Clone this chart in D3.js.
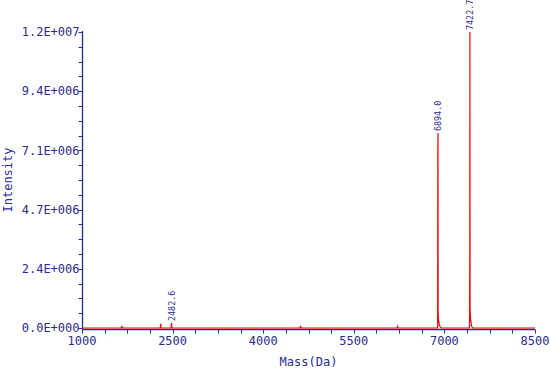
<!DOCTYPE html>
<html>
<head>
<meta charset="utf-8">
<script src="https://cdn.jsdelivr.net/npm/d3@7"></script>
<style>
  body { margin: 0; background: #fff; }
  svg { display: block; }
</style>
</head>
<body>
<div id="chart"></div>
<script>
// spectrum points (mass in Da, intensity in counts)
var massData = [1000, 1655, 1662, 1669, 2296, 2303, 2310, 2476, 2482.6, 2489,
  4611, 4618, 4625, 6220, 6227, 6234,
  6888, 6891.5, 6894.0, 6896, 6902, 6910, 6920, 6932, 6950,
  7416, 7420.5, 7422.7, 7425, 7431, 7440, 7452, 7470, 8500];
var intensityData = [0, 0, 0.08e6, 0, 0, 0.17e6, 0, 0, 0.2e6, 0,
  0, 0.08e6, 0, 0, 0.06e6, 0,
  0, 7.0e6, 7.74e6, 0.6e6, 0.35e6, 0.2e6, 0.1e6, 0.04e6, 0,
  0, 3.0e6, 11.75e6, 0.8e6, 0.4e6, 0.25e6, 0.06e6, 0, 0];

// annotated peaks
var peakMass = [2482.6, 6894.0, 7422.7];
var peakIntensity = [0.2e6, 7.74e6, 11.75e6];
var peakLabels = ["2482.6", "6894.0", "7422.7"];

// axis ticks
var xTicks = [1000, 2500, 4000, 5500, 7000, 8500];
var yTicks = [0, 2.35e6, 4.7e6, 7.05e6, 9.4e6, 11.75e6];
var yTickLabels = ["0.0E+000", "2.4E+006", "4.7E+006", "7.1E+006", "9.4E+006", "1.2E+007"];

var width = 550, height = 369;
var margin = {top: 32, right: 15, bottom: 41, left: 82};
var navy = "#2b2b8e";

var svg = d3.select("#chart").append("svg")
  .attr("width", width)
  .attr("height", height);

var x = d3.scaleLinear()
  .domain([1000, 8500])
  .range([margin.left, width - margin.right]);
var y = d3.scaleLinear()
  .domain([0, 11.75e6])
  .range([height - margin.bottom, margin.top]);

var axisY = height - margin.bottom + 1.5;

// minor ticks, 4 subdivisions
var xMinor = d3.range(1000, 8500.1, 375);
var yMinor = d3.range(0, 11.75e6 + 1, 2.35e6 / 4);

var xAxis = svg.append("g")
  .attr("transform", "translate(0," + axisY + ")");
xAxis.append("line")
  .attr("x1", x(1000)).attr("x2", x(8500))
  .attr("stroke", navy).attr("stroke-width", 1.3);
xAxis.selectAll("line.tick")
  .data(xMinor)
  .enter().append("line")
  .attr("class", "tick")
  .attr("x1", d => Math.round(x(d)) + 0.5)
  .attr("x2", d => Math.round(x(d)) + 0.5)
  .attr("y1", 0).attr("y2", 4)
  .attr("stroke", navy);
xAxis.selectAll("text")
  .data(xTicks)
  .enter().append("text")
  .attr("x", d => x(d))
  .attr("y", 15)
  .attr("text-anchor", "middle")
  .attr("font-family", "DejaVu Sans Mono")
  .attr("font-size", "12px")
  .attr("fill", navy)
  .text(d => d);

var yAxis = svg.append("g")
  .attr("transform", "translate(" + (margin.left + 0.5) + ",0)");
yAxis.append("line")
  .attr("y1", y(11.75e6) - 1).attr("y2", axisY)
  .attr("stroke", navy).attr("stroke-width", 1.3);
yAxis.selectAll("line.tick")
  .data(yMinor)
  .enter().append("line")
  .attr("class", "tick")
  .attr("y1", d => Math.round(y(d)) + 0.5)
  .attr("y2", d => Math.round(y(d)) + 0.5)
  .attr("x1", -4).attr("x2", 0)
  .attr("stroke", navy);
yAxis.selectAll("text")
  .data(yTicks)
  .enter().append("text")
  .attr("x", -3)
  .attr("y", d => y(d))
  .attr("dy", "0.35em")
  .attr("text-anchor", "end")
  .attr("font-family", "DejaVu Sans Mono")
  .attr("font-size", "12px")
  .attr("fill", navy)
  .text((d, i) => yTickLabels[i]);

// axis titles
svg.append("text")
  .attr("x", (x(1000) + x(8500)) / 2)
  .attr("y", 366)
  .attr("text-anchor", "middle")
  .attr("font-family", "DejaVu Sans Mono")
  .attr("font-size", "12px")
  .attr("fill", navy)
  .text("Mass(Da)");
svg.append("text")
  .attr("transform", "translate(12," + ((y(0) + y(11.75e6)) / 2) + ") rotate(-90)")
  .attr("text-anchor", "middle")
  .attr("font-family", "DejaVu Sans Mono")
  .attr("font-size", "12px")
  .attr("fill", navy)
  .text("Intensity");

// spectrum
var line = d3.line()
  .x((d, i) => x(massData[i]))
  .y((d, i) => y(intensityData[i]));
svg.append("path")
  .datum(massData)
  .attr("d", line)
  .attr("fill", "none")
  .attr("stroke", "#ff0000")
  .attr("stroke-width", 1.2);

// peak labels
svg.selectAll("text.peak")
  .data(peakMass)
  .enter().append("text")
  .attr("class", "peak")
  .attr("transform", (d, i) => "translate(" + (x(d) + 3) + "," + (y(peakIntensity[i]) - 2) + ") rotate(-90)")
  .attr("text-anchor", "start")
  .attr("font-family", "DejaVu Sans Mono")
  .attr("font-size", "8.4px")
  .attr("fill", navy)
  .text((d, i) => peakLabels[i]);
</script>
</body>
</html>
